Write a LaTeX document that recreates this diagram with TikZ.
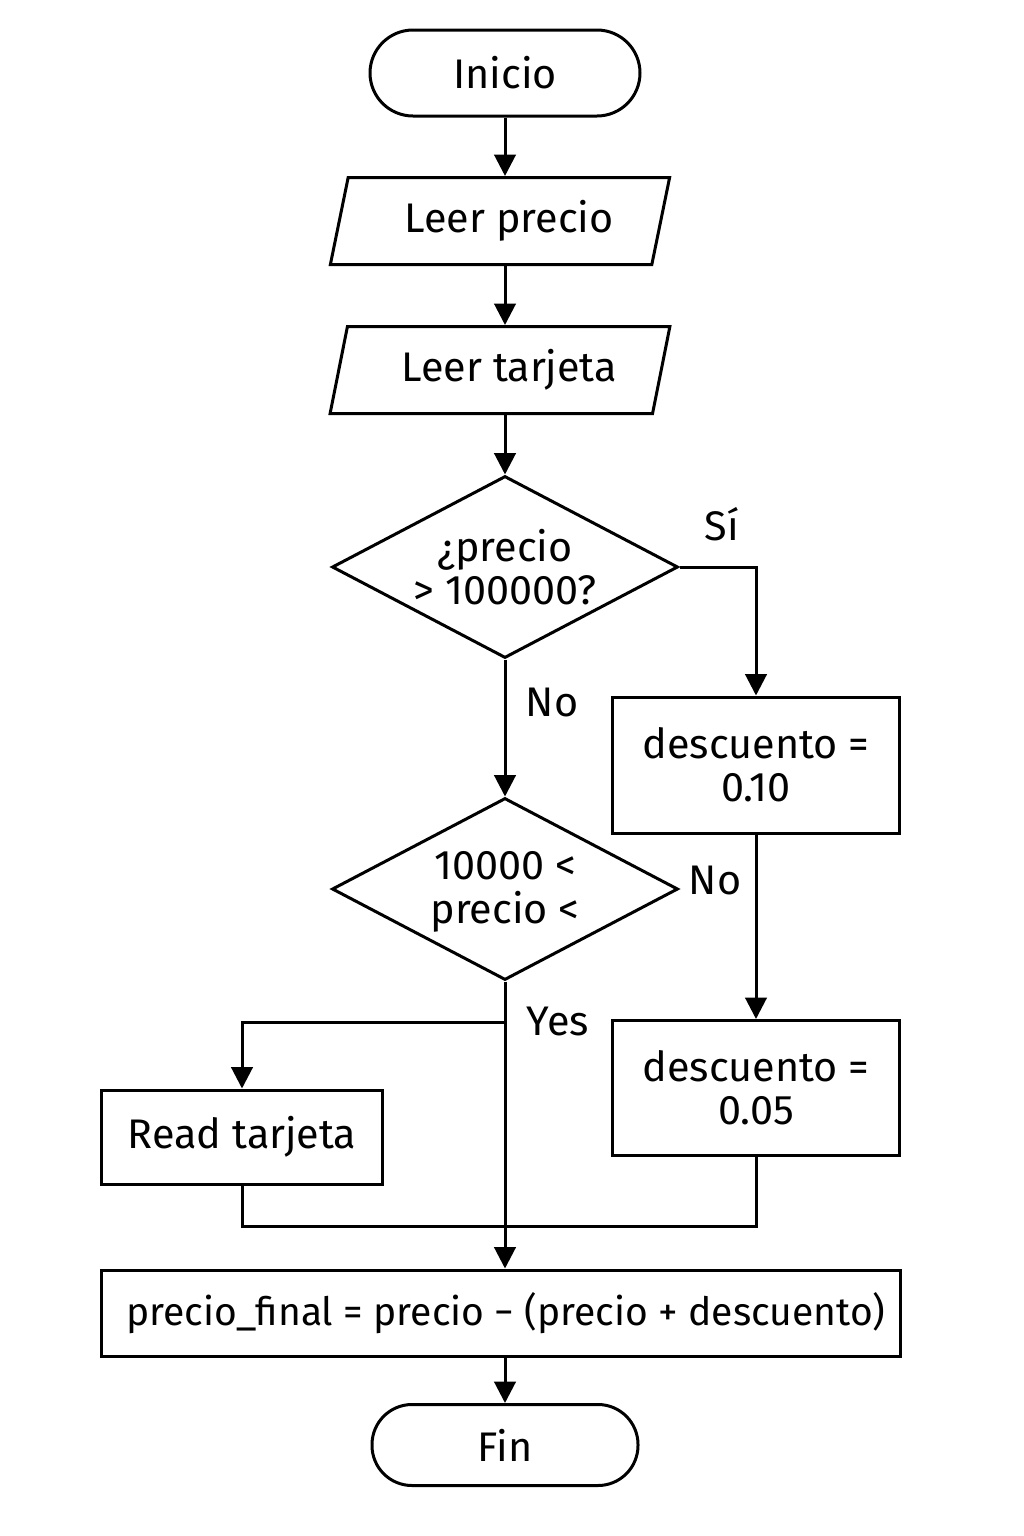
\documentclass[tikz,border=0pt]{standalone}
\usepackage{fontspec}
\setmainfont{Fira Sans}
\usetikzlibrary{shapes.geometric,arrows.meta}
\begin{document}
\begin{tikzpicture}[x=0.75pt,y=-0.75pt,line width=2.25pt,
  font=\fontsize{31}{32.5}\selectfont,
  box/.style={draw,rectangle,inner sep=0pt,align=center},
  term/.style={draw,rectangle,inner sep=0pt},
  iobox/.style={draw,trapezium,trapezium left angle=72,trapezium right angle=108,
     trapezium stretches=true,inner sep=0pt},
  dia/.style={draw,diamond,inner sep=0pt},
  lbl/.style={inner sep=0pt},
  arr/.style={-{Triangle[length=16pt,width=16pt]}}]
\useasboundingbox (0,0) rectangle (1024,1536);
\fill[white] (0,0) rectangle (1024,1536);

\node[term,minimum width={270*0.75pt},minimum height={86*0.75pt},rounded corners={43*0.75pt}] (ini) at (505,73) {Inicio};
\node[iobox,minimum width={340*0.75pt},minimum height={87*0.75pt}] (lp) at (500,221) {\hspace*{14pt}Leer precio};
\node[iobox,minimum width={340*0.75pt},minimum height={87*0.75pt}] (lt) at (500,370) {\hspace*{14pt}Leer tarjeta};
\node[dia,minimum width={346*0.75pt},minimum height={182*0.75pt}] (d1) at (505,567) {};
\node[align=center,lbl] (d1t) at (505,567) {¿precio\\> 100000?};
\node[box,minimum width={287*0.75pt},minimum height={136*0.75pt}] (b1) at (756,765) {descuento =\\0.10};
\node[dia,minimum width={346*0.75pt},minimum height={182*0.75pt}] (d2) at (505,889) {};
\node[align=center,lbl] (d2t) at (505,892) {10000 <\\precio <};
\node[box,minimum width={287*0.75pt},minimum height={135*0.75pt}] (b2) at (756,1088) {descuento =\\0.05};
\node[box,minimum width={281*0.75pt},minimum height={94*0.75pt}] (rt) at (242,1137) {Read tarjeta};
\node[box,minimum width={799*0.75pt},minimum height={86*0.75pt},font=\fontsize{29.3}{31}\selectfont] (pf) at (500.5,1313) {\hspace*{8pt}precio\_final = precio − (precio + descuento)};
\node[term,minimum width={266*0.75pt},minimum height={81*0.75pt},rounded corners={40*0.75pt}] (fin) at (505,1445) {Fin};

\node[lbl] (lsi) at (722,524) {Sí};
\node[lbl] (lno1) at (552,702) {No};
\node[lbl] (lno2) at (715,880) {No};
\node[lbl] (lyes) at (558,1021) {Yes};

\draw[arr] (ini.south) -- (ini.south |- lp.north);
\draw[arr] (ini.south |- lp.south) -- (ini.south |- lt.north);
\draw[arr] (ini.south |- lt.south) -- (d1.north);
\draw[arr] (d1.east) -| (b1.north);
\draw[arr] (d1.south) -- (d2.north);
\draw[arr] (b1.south) -- (b2.north);
\draw[arr] (d2.south) -- (d2.south |- pf.north);
\coordinate (br) at (d2.south |- 0,1022);
\draw[arr] (br) -| (rt.north);
\coordinate (mg) at (rt.south |- 0,1226);
\draw (rt.south) -- (mg) -| (b2.south);
\draw[arr] (pf.south -| fin.north) -- (fin.north);
\end{tikzpicture}
\end{document}
